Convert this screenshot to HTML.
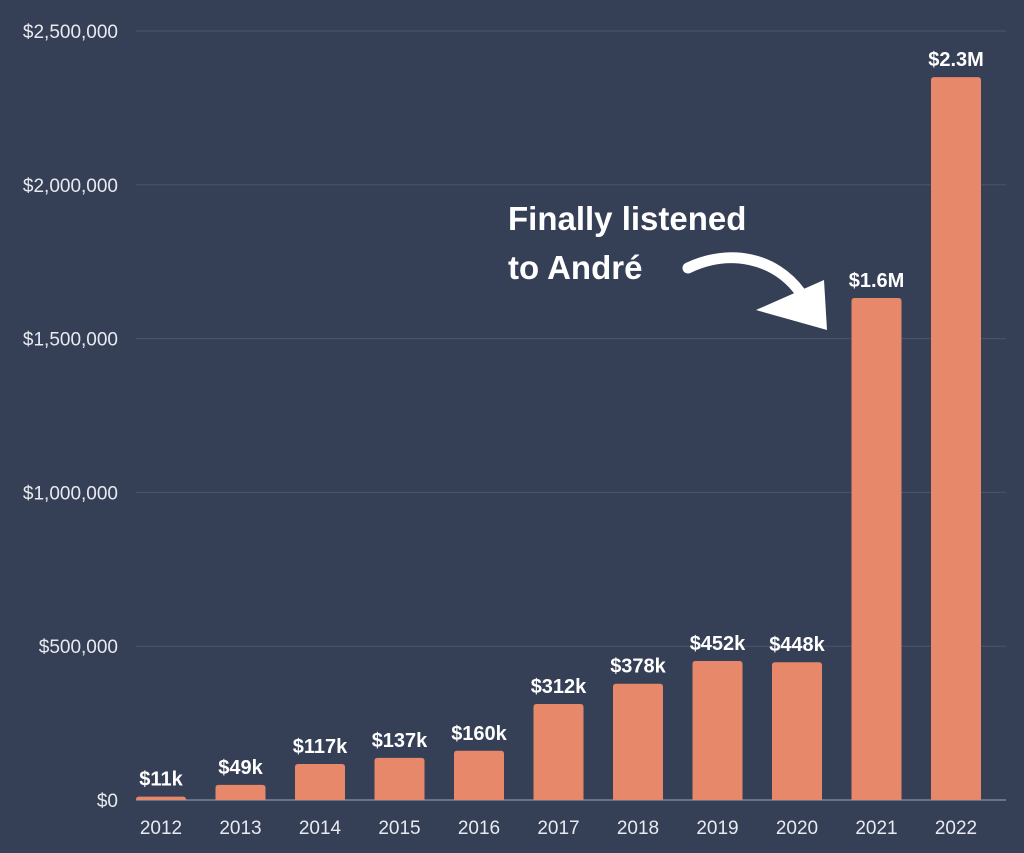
<!DOCTYPE html>
<html><head><meta charset="utf-8"><style>
html,body{margin:0;padding:0;background:#353f56;}
svg{display:block;}
text{font-family:"Liberation Sans",sans-serif;}
</style></head><body>
<svg id="chart" width="1024" height="853" viewBox="0 0 1024 853" xmlns="http://www.w3.org/2000/svg">
<rect width="1024" height="853" fill="#353f56"/>
<g id="grid"></g><g id="bars"></g><g id="labels"></g>
<g>
<text x="508" y="230" fill="#fff" font-size="33" font-weight="bold">Finally listened</text>
<text x="508" y="279" fill="#fff" font-size="33" font-weight="bold">to André</text>
<path d="M688,268 C730,248 775,258 800,292" fill="none" stroke="#fff" stroke-width="11" stroke-linecap="round"/>
<polygon points="756,310 824,280 827,330" fill="#fff"/>
</g>
</svg>
<script>
const years=["2012","2013","2014","2015","2016","2017","2018","2019","2020","2021","2022"];
const revenue=[11000,49000,117000,137000,160000,312000,378000,452000,448000,1632000,2350000];
const valueLabels=["$11k","$49k","$117k","$137k","$160k","$312k","$378k","$452k","$448k","$1.6M","$2.3M"];
const yTicks=[0,500000,1000000,1500000,2000000,2500000];
const yTickLabels=["$0","$500,000","$1,000,000","$1,500,000","$2,000,000","$2,500,000"];
const NS="http://www.w3.org/2000/svg";
const x0=136,x1=1006,y0=800,yTop=31,maxV=2500000;
const y=v=>y0-(v/maxV)*(y0-yTop);
const step=(x1-x0-10)/years.length*1.0;
const xc=i=>161+i*79.5;
const bw=50;
function mk(t,a,p){const e=document.createElementNS(NS,t);for(const k in a)e.setAttribute(k,a[k]);p.appendChild(e);return e;}
const grid=document.getElementById('grid'),bars=document.getElementById('bars'),labels=document.getElementById('labels');
yTicks.forEach((v,i)=>{
 const l=mk('line',{x1:x0,x2:x1,y1:y(v),y2:y(v),stroke:v===0?'#6a7285':'#4b5469','stroke-width':v===0?2:1},grid);
 
 
 const t=mk('text',{x:118,y:y(v)+7,fill:'#e8eaef','font-size':19,'text-anchor':'end'},grid);
 t.textContent=yTickLabels[i];
 
 
});
years.forEach((yr,i)=>{
 const top=y(revenue[i]),h=y0-top;
 const r=mk('path',{d:`M${xc(i)-bw/2},${y0} V${top+3} Q${xc(i)-bw/2},${top} ${xc(i)-bw/2+3},${top} H${xc(i)+bw/2-3} Q${xc(i)+bw/2},${top} ${xc(i)+bw/2},${top+3} V${y0} Z`,fill:'#e8886a'},bars);
 
 
 const v=mk('text',{x:xc(i),y:top-11,fill:'#fff','font-size':20,'font-weight':'bold','text-anchor':'middle'},labels);
 v.textContent=valueLabels[i];
 
 
 const t=mk('text',{x:xc(i),y:834,fill:'#e8eaef','font-size':19,'text-anchor':'middle'},labels);
 t.textContent=yr;
 
 
});
</script>
</body></html>
